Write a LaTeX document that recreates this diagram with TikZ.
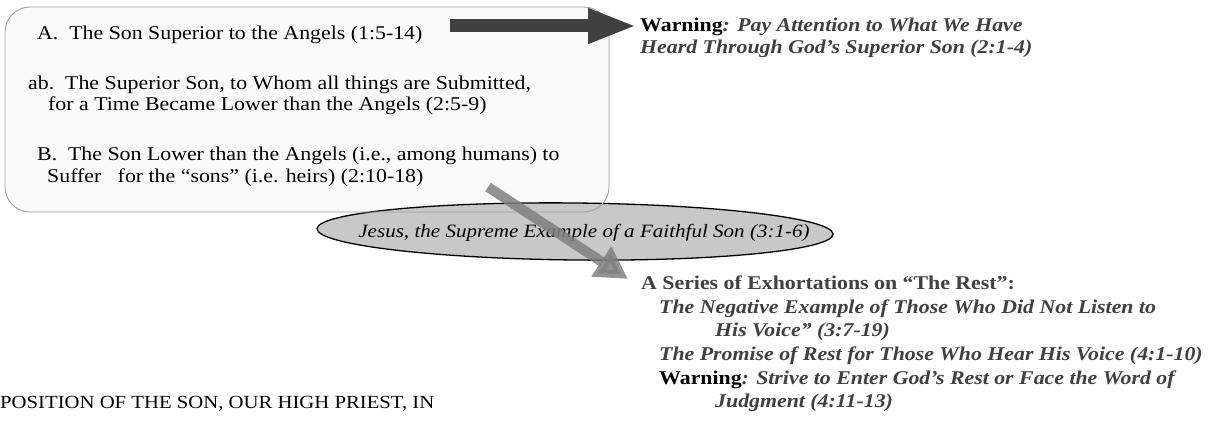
\documentclass[tikz,border=0pt]{standalone}
\usepackage{fontspec}
\setmainfont[FakeStretch=1.12]{Liberation Serif}
\usetikzlibrary{arrows.meta,shapes.geometric}
\definecolor{txtgray}{HTML}{404040}
\definecolor{boxfill}{HTML}{FAFAFA}
\definecolor{boxline}{HTML}{A0A0A0}
\definecolor{ellfill}{HTML}{C8C8C8}
\definecolor{darkarrow}{HTML}{404040}
\definecolor{lightarrow}{HTML}{808080}
\tikzset{
  txt/.style={inner sep=0pt, anchor=base west, font=\fontsize{19.5}{22}\selectfont},
  grayit/.style={txt, text=txtgray, font=\fontsize{19.5}{22}\selectfont\bfseries\itshape},
  graybf/.style={txt, text=txtgray, font=\fontsize{19.5}{22}\selectfont\bfseries},
  sectionbox/.style={rounded corners=25pt},
  oval/.style={ellipse, draw=black, line width=1.3pt, fill=ellfill, inner sep=0pt, minimum width=516pt, minimum height=57pt},
  bigarrow/.style={draw=darkarrow, line width=13pt, -{Triangle[length=49pt,width=32pt]}},
  slantarrow/.style={draw=lightarrow, opacity=0.85, line width=10pt, -{Triangle[length=32pt,width=34pt]}}
}
\begin{document}
\begin{tikzpicture}[x=1pt,y=-1pt]
\useasboundingbox (0,0) rectangle (1219,422);
% box fill
\fill[boxfill, sectionbox] (5,7) rectangle (609,212);
% ellipse
\node[oval, rotate=-0.6] (jesus) at (575,231.5) {};
\node[txt, font=\fontsize{18.8}{22}\selectfont\itshape, anchor=base] (jesustxt) at (584,238) {Jesus, the Supreme Example of a Faithful Son (3:1-6)};
% box border
\draw[boxline, line width=0.9pt, sectionbox] (5,7) rectangle (609,212);
% box text
\node[txt] (lA) at (37,40) {A.\ \ The Son Superior to the Angels (1:5-14)};
\node[txt] (lab1) at (28,90) {ab.\ \ The Superior Son, to Whom all things are Submitted,};
\node[txt] (lab2) at (48,111) {for a Time Became Lower than the Angels (2:5-9)};
\node[txt] (lB1) at (37,161) {B.\ \ The Son Lower than the Angels (i.e., among humans) to};
\node[txt] (lB2) at (47,183) {Suffer\ \ \ for the “sons” (i.e. heirs) (2:10-18)};
% warning text
\node[grayit] (w1) at (640,32) {\textcolor{black}{\textbf{\upshape Warning}}: Pay Attention to What We Have};
\node[grayit] (w2) at (640,54) {Heard Through God’s Superior Son (2:1-4)};
% dark arrow
\coordinate (darkstart) at (450,26);
\coordinate (darkend) at (637,26);
\draw[bigarrow] (darkstart) -- (darkend);
% exhortations
\node[graybf] (e0) at (641,290) {A Series of Exhortations on “The Rest”:};
\node[grayit] (e1) at (659,313.5) {The Negative Example of Those Who Did Not Listen to};
\node[grayit] (e2) at (715,337) {His Voice” (3:7-19)};
\node[grayit] (e3) at (659,360.5) {The Promise of Rest for Those Who Hear His Voice (4:1-10)};
\node[grayit] (e4) at (659,384) {\textcolor{black}{\textbf{\upshape Warning}}: Strive to Enter God’s Rest or Face the Word of};
\node[grayit] (e5) at (715,407.5) {Judgment (4:11-13)};
% gray arrow
\coordinate (graystart) at (488,187);
\coordinate (grayend) at (628,279);
\draw[slantarrow] (graystart) -- (grayend);
% bottom left text
\node[txt, font=\fontsize{18.5}{22}\selectfont] (pos) at (0,408) {POSITION OF THE SON, OUR HIGH PRIEST, IN};
\end{tikzpicture}
\end{document}
